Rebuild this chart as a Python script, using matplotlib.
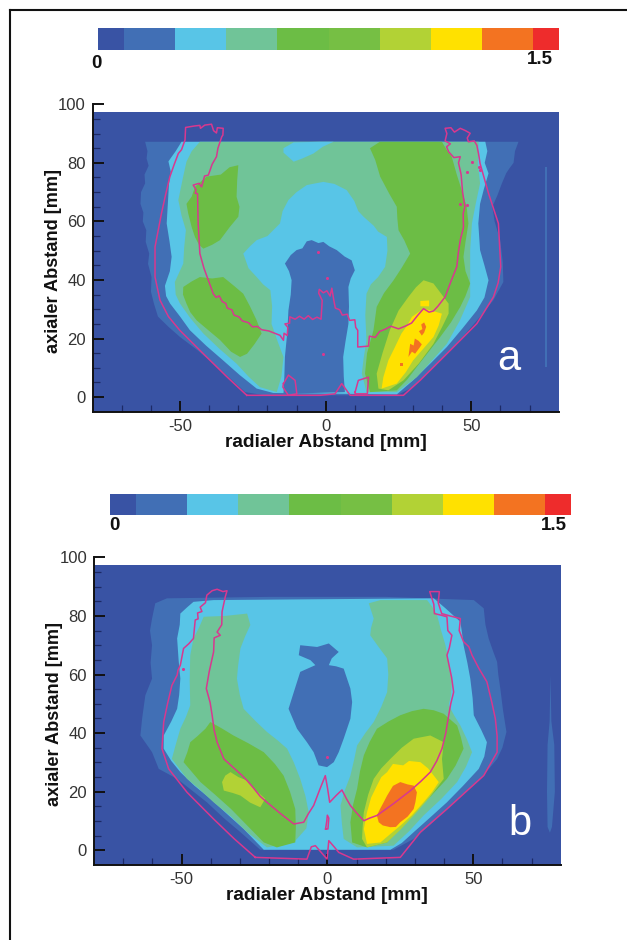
import matplotlib
matplotlib.use('Agg')
import numpy as np
import matplotlib.pyplot as plt
from matplotlib.colors import ListedColormap

plt.rcParams['font.family'] = ['Liberation Sans', 'DejaVu Sans']
plt.rcParams['axes.unicode_minus'] = False

# contour colours, lowest level first
level_colors = ['#3953A4', '#416FB5', '#58C5E7', '#70C498', '#6CBD45', '#76BF44',
                '#B2D235', '#FFE100', '#F37321', '#EE2C2C']
level_edges = [0, 0.083, 0.25, 0.417, 0.583, 0.75, 0.917, 1.083, 1.25, 1.417, 1.5]

x_ticks = [-50, 0, 50]
y_ticks = [0, 20, 40, 60, 80, 100]
x_label = 'radialer Abstand [mm]'
y_label = 'axialer Abstand [mm]'

# panel a, contours in mm (x, y)
a_blue = [(-62, 87.2), (-61.2, 84), (-61.5, 81.5), (-60.8, 79), (-62.2, 76), (-62, 73), (-63.4, 70), (-63.6, 66),
          (-62.6, 63), (-62.8, 60), (-61.6, 57), (-61.8, 53), (-60.6, 49), (-61, 45.5), (-59.8, 41), (-60, 36),
          (-59, 32), (-57.6, 27.5), (-54, 24), (-50, 20.5), (-44, 16), (-38.6, 11.4), (-33, 6.5), (-27.7, 1.7),
          (-21, 0.6), (24.4, 0.6), (30, 3.4), (36, 9), (41.6, 14.8), (47, 20.5), (53, 27.4), (57.5, 33), (61, 39.3),
          (60.8, 46), (59.9, 53.6), (58, 60), (57.2, 65), (59, 69), (60.5, 73), (62, 76.5), (63, 78), (64.5, 80),
          (65, 84), (66.2, 87.2)]
a_cyan = [(-49.5, 87.2), (-51.5, 84), (-54, 80.5), (-53.2, 77), (-53.8, 73), (-54.2, 66), (-54.6, 59.3), (-53.6, 53),
          (-52.9, 47.9), (-53.5, 43), (-55.2, 38), (-54.8, 34.5), (-53.4, 31.9), (-50, 27.5), (-46.6, 22.8), (-41, 17.5),
          (-35.2, 12.5), (-29.5, 7.5), (-23.7, 2.9), (-18, 1.4), (24.4, 0.9), (30, 5.7), (36, 11.5), (41.6, 17.1),
          (47, 23.5), (51.9, 29.6), (54.5, 34), (55.9, 39.9), (54.5, 45), (53, 50.2), (52.4, 59.3), (53, 66), (54.3, 71),
          (55.9, 76.4), (54.6, 80), (55.5, 84), (54.8, 87.2)]
a_lgreen = [(-43.2, 87.2), (-46, 84), (-47.8, 80.4), (-49, 75), (-50.6, 67.3), (-49.5, 62), (-48, 57), (-48.6, 51),
            (-48.9, 45.6), (-51.8, 39.3), (-51.5, 35), (-50, 31.9), (-46.5, 27), (-42, 21.7), (-36.5, 16.5), (-30.6, 11.4),
            (-26.5, 7), (-22.6, 3.4), (-16.8, 1.7), (14, 1.7), (24.4, 1.7), (31.3, 6.8), (36.5, 12.5), (41.6, 18.2),
            (46, 26), (49.6, 34.2), (49.6, 41), (49.6, 50.2), (50.2, 59.3), (51.5, 66), (53, 73), (52.2, 80), (52.5, 87.2)]
a_arch = [(-16.8, 1.7), (-15.2, 7), (-14.5, 13.7), (-16.5, 19), (-18.6, 25), (-18.4, 31), (-19, 36.5), (-21.5, 38.5),
          (-23.7, 41), (-26.5, 44), (-28.3, 49), (-26, 51.5), (-23.7, 53.6), (-20, 55), (-17.5, 57.5), (-15.7, 59.3),
          (-14.8, 63.5), (-12.8, 67.3), (-10, 70), (-6.5, 72.4), (-3.5, 73), (-0.8, 73.5), (3, 72.8), (7.2, 70.7),
          (9.8, 67), (11.2, 63.5), (13, 61.6), (16.5, 58.5), (18, 56.5), (21, 54.7), (21.2, 50), (20.4, 44.5), (18, 41),
          (15.5, 38.5), (14, 35.3), (13.6, 28), (14, 19.4), (13, 13), (12.4, 8), (14, 1.7)]
a_cyan_top = [(-14.5, 85), (-11, 87), (-2, 87.2), (2.7, 87.2), (-1, 85.5), (-4.2, 83.2), (-8, 81.5), (-11, 80.4), (-14.5, 83.5)]
a_center = [(-6.5, 53.2), (-4.8, 53.6), (-2.5, 52.6), (-0.8, 53), (1.2, 51.5), (3.8, 50.2), (6.5, 48), (8.9, 46.7), (10, 43.3),
            (8.6, 40.5), (7.8, 37.6), (8, 31), (7.8, 25), (6.8, 19), (6, 13.7), (6.2, 7), (6.6, 1.7), (-14.5, 1.1), (-14.2, 7),
            (-14, 13.7), (-13.2, 22), (-12.8, 29.6), (-12, 35), (-11.7, 39.9), (-12.6, 43), (-14, 45.6), (-12, 48.5), (-10, 50.2),
            (-8, 50.8)]
a_green_right = [(15.2, 85), (18.6, 87.2), (39.9, 87.2), (41.5, 84.5), (43.3, 82), (45, 76), (46.7, 70.7), (48.4, 65), (49, 59.3),
                 (48, 53), (47.3, 47.9), (48, 43), (49.6, 38.8), (48, 34.5), (46.2, 30.8), (43, 25.5), (39.3, 20.5), (35, 15),
                 (31.3, 10.3), (28, 6), (24.4, 2.3), (15.2, 1.7), (13.5, 8), (14.2, 15), (16.4, 22.8), (17.5, 30.8), (20, 35.5),
                 (23.3, 39.9), (26, 44), (29, 49), (27, 53.5), (25, 57), (24.6, 61), (24.4, 65), (21.8, 69.5), (18.7, 75.3), (17, 81)]
a_green_top = [(-40.9, 75.3), (-36, 76), (-33, 78.5), (-30, 79.2), (-30.4, 74), (-30.6, 68.4), (-29.6, 65), (-30, 61.6), (-33, 58),
               (-36.3, 53.6), (-39, 52), (-42, 50.7), (-43.5, 52), (-44.9, 54.7), (-46, 58), (-47.2, 62.7), (-47.8, 66), (-46, 68.5),
               (-44.9, 71.8)]
a_green_low = [(-48.9, 37.6), (-46, 39.5), (-43.2, 41), (-39, 40.5), (-35.2, 41), (-31.5, 38), (-28.3, 35.3), (-26, 31), (-23.7, 26.2),
               (-22, 21.7), (-24.5, 18), (-27, 14.8), (-29.4, 13.7), (-32.5, 15.5), (-36.3, 19.5), (-40.5, 23), (-44.3, 26.2), (-46.5, 29),
               (-47.8, 31.9), (-49, 35)]
a_lime = [(28.4, 34.2), (31, 37.5), (33.6, 39.9), (37, 38.8), (39.5, 35.5), (42.2, 31.9), (42.2, 28.5), (40, 24), (37, 18.2), (32, 11.5),
          (26.7, 5.7), (21.5, 2.3), (18.1, 2.9), (17.5, 8), (19.5, 15), (22, 22.8), (25, 29.5)]
a_yellow = [(33.6, 30.2), (36.5, 29.5), (39.9, 28.5), (38.8, 24.5), (37, 20.5), (33.5, 16.5), (30, 12.5), (27.5, 8.5), (24.4, 4.6), (19.2, 2.9),
            (19.8, 6.8), (21.5, 12.5), (23.5, 16.5), (26, 21.7), (28, 24.5), (29.6, 27.4)]
a_yellow_dot = [(32.5, 32.8), (35.5, 33), (35.5, 31), (32.5, 31)]
a_orange_1 = [(28.4, 13.7), (29, 18.2), (30.2, 17.6), (30.6, 20), (31.9, 19.2), (33, 18), (32.4, 17.1), (30.7, 14.8), (29.6, 15.5)]
a_orange_2 = [(32, 22.5), (33.2, 23.2), (32.8, 24.8), (33.8, 25.5), (34.5, 24), (33.8, 22), (33, 21)]
a_orange_3 = [(25.5, 11.7), (26.5, 11.7), (26.5, 10.7), (25.5, 10.7)]
a_strip = [(75.4, 78.7), (75.9, 78.7), (75.9, 10.3), (75.4, 10.3)]
a_contour = [(-27.1, 0.6), (-34, 7), (-40.9, 13.7), (-50.1, 22.8), (-54, 27.5), (-56.9, 33.1), (-58.6, 41), (-58.6, 51.3), (-56.4, 62.7),
             (-55, 69), (-53.5, 75.3), (-52, 79.5), (-50.6, 83.2), (-49.5, 84.5), (-48.3, 87.8), (-48.1, 92.1), (-45, 92.6), (-43.2, 92.8),
             (-43, 91.8), (-41.5, 92.9), (-39.2, 93.2), (-38.5, 91), (-37.5, 90.2), (-37.2, 92), (-35.2, 91.8), (-35.3, 89.5), (-35.7, 88.9),
             (-37, 85), (-37.5, 82.1), (-39, 79.5), (-40.3, 75.8), (-41.6, 75.5), (-42.6, 71.8), (-43.5, 73), (-45.5, 72.4), (-44.5, 70.8),
             (-44.8, 69.6), (-44, 69.5), (-43.8, 59.3), (-43.2, 49), (-41.8, 44), (-40.3, 39.9), (-38.6, 35.3), (-37.6, 34), (-36.6, 34.6),
             (-35.5, 32.6), (-34.3, 32), (-33.8, 30.4), (-32.2, 29.8), (-31.5, 28), (-29.8, 27.4), (-28.6, 26), (-26.5, 25.4), (-25.2, 24),
             (-23.4, 24.1), (-22, 23), (-19.6, 22.6), (-17.5, 21.8), (-15.7, 21.1), (-14.5, 19.4), (-14.3, 21.8), (-13.2, 21), (-13, 23.8),
             (-14, 25), (-12.4, 25.2), (-12.3, 27.4), (-10.5, 26.6), (-9, 27.6), (-7.4, 26.6), (-6, 27.8), (-4.5, 26.5), (-3, 27.3), (-1.6, 26.6),
             (-1.2, 33), (-2.4, 35.5), (-2.2, 36.8), (-0.8, 35.6), (0.4, 36.3), (1.5, 34.5), (2.1, 37.2), (2.8, 33), (3.3, 30.4), (4.8, 29.8),
             (5.7, 28), (7.4, 28.3), (8.2, 26.2), (10, 26.4), (10.3, 23.8), (11, 22.8), (11, 17.1), (14.7, 17.4), (15, 20.8), (17, 20.4), (18.5, 22.4),
             (20.5, 23.2), (22.4, 24.2), (25, 23.3), (27.5, 24.3), (29.5, 25.3), (31.5, 27.8), (33.6, 30.2), (35.5, 29), (37, 29.4), (38.5, 31),
             (41, 34.2), (43, 39.5), (45, 44.5), (45.5, 49), (46.2, 53.6), (47.3, 58), (47.2, 62.7), (47.8, 65), (47, 70), (46.5, 76), (45.6, 80),
             (46.2, 82.1), (44, 81.8), (42.2, 83.8), (41.5, 85.5), (42.8, 86.5), (41, 87.5), (41.6, 90), (41, 91.8), (43, 92), (44.2, 90.5), (46.2, 91.8),
             (48, 91), (49.6, 90.1), (48.6, 88.5), (49, 87.2), (51, 87.5), (51.9, 86), (52.5, 83), (53, 79.8), (55.9, 69.6), (59.3, 59.3), (60.1, 44.5),
             (59.2, 39), (57.6, 34.2), (51.9, 25.1), (41.6, 14.8), (32.4, 5.7), (26.7, 0.6), (8.4, 0.6), (5.5, 4.6), (3.2, 1.1), (-1.9, 0.6), (-27.1, 0.6)]
a_loop_left = [(-14.5, 4.6), (-12.8, 7.5), (-10.5, 5.7), (-9.9, 1.1), (-12.8, 0.6), (-14.7, 3.4), (-14.5, 4.6)]
a_loop_right = [(10.1, 1.7), (11.2, 5.7), (14.7, 6.8), (14.3, 1.1), (10.1, 1.1), (10.1, 1.7)]
a_specks = [(48.5, 77), (50.2, 80.4), (52.5, 78.7), (53, 77.5), (46.2, 66.1), (48.5, 65.6), (-2.5, 49.6), (-0.8, 14.8), (0.3, 40.5)]

# panel b, contours in mm (x, y)
b_blue = [(-59, 84.3), (-55, 86), (-20, 86.5), (20, 86.5), (50.2, 85.4), (53.6, 82.6), (54.2, 77), (55.3, 72.3), (56.8, 68), (58.2, 64.3),
          (58.6, 60), (59.3, 55.2), (60.2, 48), (61.4, 40.4), (60, 35), (58.2, 31.2), (52.5, 24.4), (47, 19.5), (41, 14.1), (35, 8.5), (29.6, 3.9),
          (22.7, 0.2), (-23, 0.2), (-29.8, 6.2), (-35.5, 11), (-41.3, 16.4), (-46.5, 20.5), (-51.5, 24.4), (-57.8, 27.8), (-60.1, 33.5),
          (-64.1, 39.2), (-63.5, 45), (-62.4, 52.9), (-60.1, 58.6), (-60.6, 64), (-60.1, 70), (-60.8, 75), (-60.1, 79.1)]
b_cyan = [(-50.4, 80.8), (-48, 83), (-45.9, 84.8), (-39, 85.4), (36.5, 86), (40.5, 82.6), (45.6, 78), (46.2, 74), (46.7, 70), (48, 64), (49, 58.6),
          (49.8, 52), (50.2, 46.1), (52.8, 41), (54.7, 36.9), (53.8, 32), (51.9, 27.8), (46.5, 22), (41, 16.4), (35, 11), (29.6, 6.2), (25.5, 2.5),
          (21.6, 0.2), (-21.8, 0.2), (-28.7, 7.3), (-34.5, 12.5), (-40.1, 17.6), (-45.5, 22), (-50.4, 26.7), (-53.5, 30.5), (-56.1, 34.7), (-56.1, 39.2),
          (-53.5, 44), (-51.5, 48.3), (-50.8, 53), (-50.4, 58.6), (-51, 65), (-51.5, 72.3), (-50.6, 77)]
b_lgreen_left = [(-42.4, 79.7), (-35, 80), (-27.5, 80.8), (-26.4, 76.9), (-28.2, 73), (-29.8, 68.9), (-30.6, 63), (-31, 58.6), (-30, 53), (-28.7, 48.3),
                 (-24.5, 44), (-20.7, 40.4), (-17, 37.5), (-13.8, 34.7), (-11.5, 30), (-9.3, 24.4), (-7.5, 18.5), (-6.4, 13), (-7.2, 7.5), (-11.5, 2.7), (-20.7, 1),
                 (-27.5, 6.2), (-33, 11.5), (-39, 16.4), (-44, 21), (-48.1, 24.4), (-53.3, 31.2), (-52, 36), (-50.4, 41.5), (-48.5, 45.5), (-47, 49.5), (-47.2, 58),
                 (-47, 66.6), (-45.9, 72.3), (-44, 76)]
b_lgreen_right = [(14.2, 84.3), (18.2, 85.4), (34.2, 85.4), (36, 83), (37.6, 80.3), (39, 75), (40.5, 70), (41.6, 64), (42.7, 58.6), (42.4, 53), (41.6, 49.5),
                  (43.5, 46), (45.6, 42.6), (47.8, 38), (49.6, 33.5), (47.5, 28.5), (44.5, 23.3), (39, 17.5), (33, 11.9), (28, 6.5), (22.7, 1.6), (10.2, 1),
                  (5.6, 3.9), (5, 9), (4.5, 15.3), (6, 20.5), (7.9, 25.5), (9.2, 31), (10.2, 35.8), (13, 40), (15.9, 43.8), (18.5, 49), (20.5, 54), (20.9, 60),
                  (20.5, 65.5), (17.5, 69.5), (14.7, 73.4), (15, 76), (15.9, 79.1)]
b_green_left = [(-40.1, 43.8), (-36, 41.5), (-32.2, 39.2), (-27, 36.5), (-21.8, 33.5), (-18, 29.5), (-15, 25.5), (-12.8, 20), (-11, 14.1), (-10.8, 8),
                (-11, 2.7), (-17.3, 1), (-21.8, 2.7), (-27.5, 8.5), (-33, 14.1), (-38.5, 19), (-43.5, 23.3), (-49.3, 30.1), (-48, 33.5), (-47, 36.9), (-44.5, 39),
                (-41.8, 41.5)]
b_green_right = [(17, 41.5), (21, 44), (25, 46.1), (29, 47.5), (33, 48.3), (36.5, 47.8), (39.9, 46.6), (44.5, 42.6), (45.8, 38.5), (46.7, 34.7), (44, 29),
                 (41, 24.4), (35.5, 18.5), (29.6, 13), (25, 7.8), (20.5, 2.7), (13.6, 1), (8.5, 2.7), (7.9, 9.6), (8.8, 15.5), (10.2, 21), (11.2, 27), (12.5, 32.4),
                 (14.5, 37)]
b_lime_left = [(-36.1, 23.3), (-35, 25.5), (-33.2, 26.7), (-30.5, 25), (-27.5, 23.8), (-24.5, 20.5), (-21.3, 17.6), (-23, 14.7), (-26.5, 16.3), (-29.8, 18.7),
               (-32.5, 19.6), (-35.5, 20.4)]
b_lime_right = [(15.9, 24.4), (18.5, 28), (21.6, 31.2), (25.5, 35), (29.6, 38.1), (35.3, 39.2), (39.9, 36.9), (39.3, 31.2), (39.9, 24.4), (35, 18), (29.6, 11.9),
                (25, 7), (20.5, 2.7), (13.6, 1), (11.9, 3.9), (12.1, 8), (12.5, 13), (14, 19)]
b_yellow = [(17, 22.1), (18.5, 25), (20.5, 26.7), (22.5, 29.5), (26, 29), (28, 30.5), (31.9, 30.1), (34.5, 28), (36.5, 25.5), (38.2, 23.3), (36, 20), (33, 16.4),
            (29, 12), (25, 8.4), (21.5, 5.5), (18.2, 2.7), (13.6, 2.2), (12.5, 7.3), (13.6, 13), (15, 18)]
b_orange = [(20.5, 18.7), (22.5, 22), (25, 23.3), (27.5, 22.5), (29.6, 22.1), (30.7, 19.8), (30.2, 16.5), (29.6, 14.1), (27.5, 11.5), (25, 9.6), (23.5, 8),
            (21.6, 7.9), (19, 8.5), (17.6, 9.6), (17, 11.9), (18, 14), (19.3, 16.4)]
b_center = [(-9.3, 70), (-3.5, 69.4), (0.5, 70.6), (3.9, 67.7), (1.5, 65.5), (0.5, 63.2), (3, 62.8), (5.6, 62), (7.9, 55.2), (8.5, 50.6), (7.9, 44.9), (5.6, 38.1),
            (3.9, 33.5), (2.2, 30.1), (-0.1, 28.4), (-3, 29), (-4.7, 33.5), (-7, 36.9), (-10.4, 41.5), (-13.3, 48.3), (-11.5, 54), (-9.3, 60.9), (-4.1, 63.2),
            (-5.8, 64.9), (-9.8, 66.6)]
b_strip = [(76.5, 59.8), (76.8, 44), (77.8, 36), (78, 20), (77, 8), (76.3, 6), (75.5, 8), (75.3, 20), (75.5, 36), (76.2, 44)]
b_contour = [(-24.7, -2.4), (-32, 4), (-39, 10.7), (-48.1, 19.8), (-54.4, 27.8), (-56.7, 34.7), (-56.1, 43.8), (-54.8, 50), (-53.3, 56.3), (-51.5, 59.8),
             (-51.2, 61.5), (-50.4, 63.2), (-49.3, 68.9), (-47.5, 70.5), (-45.9, 72.3), (-45.6, 75.5), (-45.3, 78.6), (-44.3, 79), (-44.5, 81), (-43, 81.5),
             (-43.6, 83), (-41.8, 84.5), (-41.3, 87.1), (-39.5, 88.6), (-37.8, 89.1), (-35.8, 88.3), (-34.4, 88.6), (-35, 86.5), (-36.1, 81.4), (-36.2, 77),
             (-37.8, 74.5), (-36.7, 73.4), (-38.8, 72.5), (-39, 67.7), (-40.5, 61), (-41.5, 55.2), (-40.2, 50.5), (-39.5, 46.1), (-38.8, 41), (-37.8, 36.9),
             (-35.5, 31.2), (-32.5, 28.5), (-29.5, 25.8), (-27.5, 23.8), (-25.5, 21.5), (-23, 18.4), (-20.7, 16.4), (-16, 12.5), (-11.5, 9), (-8.1, 9.6),
             (-6.5, 12.5), (-4.7, 15.3), (-2.7, 20.5), (-0.7, 25.5), (0.1, 21), (0.8, 16.4), (3, 18.7), (5, 20.6), (6.5, 17.7), (7.9, 15.3), (10, 12.8),
             (12.5, 10.1), (14.5, 11), (17, 11.9), (22.5, 15.8), (28.5, 20.4), (32, 23.5), (35.3, 26.7), (37.5, 30.5), (39.3, 34.7), (40.6, 40), (41.6, 46.1),
             (42.3, 50), (43.3, 54), (42.6, 59), (41, 66.6), (41.8, 69), (42.7, 73.4), (41.3, 75), (41, 79.7), (38.8, 80.3), (36.7, 80.8), (36.5, 84), (35.1, 88.3),
             (38.4, 88.3), (38, 84.5), (39.2, 80.8), (42, 80), (45.6, 79.1), (45.2, 75), (46.7, 71.2), (48.5, 69.5), (49.6, 66.6), (52, 62), (54.7, 57.5),
             (56.5, 50), (57.6, 44.9), (58.2, 39), (58.2, 33.5), (53.6, 25.5), (47.5, 20), (41, 14.1), (31.9, 6.2), (25, -2.4), (9, -3), (3.9, -0.7), (2.5, 1),
             (0.5, 3.3), (-0.1, -3), (-4.1, 1.6), (-5.5, 1.2), (-7, -3), (-24.7, -2.4)]
b_loop = [(-0.6, 7.3), (-0.2, 10), (0, 12), (0.5, 11), (0.2, 7.3), (-0.6, 7.3)]
b_specks = [(0, 31.8), (-49.5, 62)]

# (polygon, index into level_colors), painted in this order
a_regions = [(a_blue, 1), (a_cyan, 2), (a_lgreen, 3), (a_arch, 2), (a_cyan_top, 2), (a_center, 1),
             (a_green_right, 4), (a_green_top, 4), (a_green_low, 4), (a_lime, 6), (a_yellow, 7), (a_yellow_dot, 7),
             (a_orange_1, 8), (a_orange_2, 8), (a_orange_3, 8), (a_strip, 1)]
b_regions = [(b_blue, 1), (b_cyan, 2), (b_lgreen_left, 3), (b_lgreen_right, 3), (b_center, 1), (b_green_left, 4),
             (b_green_right, 4), (b_lime_left, 6), (b_lime_right, 6), (b_yellow, 7), (b_orange, 8), (b_strip, 1)]

W, H = 627, 940
MAGENTA = '#D8388F'


def px_axes(fig, left, top, right, bottom):
    return fig.add_axes([left / W, 1 - bottom / H, (right - left) / W, (bottom - top) / H])


def draw_panel(fig, box, regions, lines, specks, letter, letter_xy):
    ax = px_axes(fig, *box)
    ax.fill([-80, 80, 80, -80], [-5, -5, 97.4, 97.4], color=level_colors[0], lw=0, zorder=0)
    for poly, lev in regions:
        xs, ys = zip(*poly)
        ax.fill(xs, ys, color=level_colors[lev], lw=0, zorder=1)
    for line in lines:
        xs, ys = zip(*line)
        ax.plot(xs, ys, color=MAGENTA, lw=1.1, zorder=2)
    xs, ys = zip(*specks)
    ax.scatter(xs, ys, s=5, color=MAGENTA, lw=0, zorder=2)
    ax.set_xlim(-80, 80)
    ax.set_ylim(-5, 100)
    ax.spines['top'].set_visible(False)
    ax.spines['right'].set_visible(False)
    for s in ['left', 'bottom']:
        ax.spines[s].set_linewidth(1.4)
        ax.spines[s].set_color('#111111')
    ax.set_xticks(x_ticks)
    ax.set_yticks(y_ticks)
    ax.set_xticks(np.arange(-70, 80, 10), minor=True)
    ax.set_yticks(np.arange(5, 100, 5), minor=True)
    ax.tick_params(which='major', direction='in', length=8, width=1.4, color='#111111',
                   labelsize=12, labelcolor='#333333', pad=5, zorder=3)
    ax.tick_params(which='minor', direction='in', length=5, width=0.9, color='#1c2a66', zorder=3)
    ax.set_xlabel(x_label, fontsize=13.8, fontweight='bold', color='#111111', labelpad=0)
    ax.set_ylabel(y_label, fontsize=13.1, fontweight='bold', color='#111111', labelpad=-3, y=0.49)
    ax.text(letter_xy[0], letter_xy[1], letter, color='white', fontsize=30, ha='center', va='center', zorder=4)
    return ax


def draw_colorbar(fig, box, zero_xy, top_xy):
    ax = px_axes(fig, *box)
    ax.pcolormesh(level_edges, [0, 1], [np.arange(len(level_colors))],
                  cmap=ListedColormap(level_colors), vmin=-0.5, vmax=len(level_colors) - 0.5)
    ax.axis('off')
    fig.text(zero_xy[0] / W, 1 - zero_xy[1] / H, '0', fontsize=13.5, fontweight='bold', color='#111111',
             ha='center', va='center')
    fig.text(top_xy[0] / W, 1 - top_xy[1] / H, '1.5', fontsize=13.5, fontweight='bold', color='#111111',
             ha='center', va='center')


fig = plt.figure(figsize=(W / 100, H / 100), dpi=100, facecolor='white')

# frame of the page: left and top only
fig.add_artist(plt.Line2D([10 / W, 10 / W], [0, 1 - 10 / H], color='#111111', lw=1.5))
fig.add_artist(plt.Line2D([10 / W, 1], [1 - 10 / H, 1 - 10 / H], color='#111111', lw=1.5))

draw_colorbar(fig, (98, 28, 559, 50), (96, 63), (540, 60))
draw_colorbar(fig, (110, 494, 571, 515), (114, 526), (554, 526))

draw_panel(fig, (92.7, 104.3, 558.7, 411.7), a_regions, [a_contour, a_loop_left, a_loop_right], a_specks, 'a', (63, 13))
draw_panel(fig, (94, 557.3, 560.7, 865), b_regions, [b_contour, b_loop], b_specks, 'b', (66, 9))

fig.savefig('out.png', dpi=100)
